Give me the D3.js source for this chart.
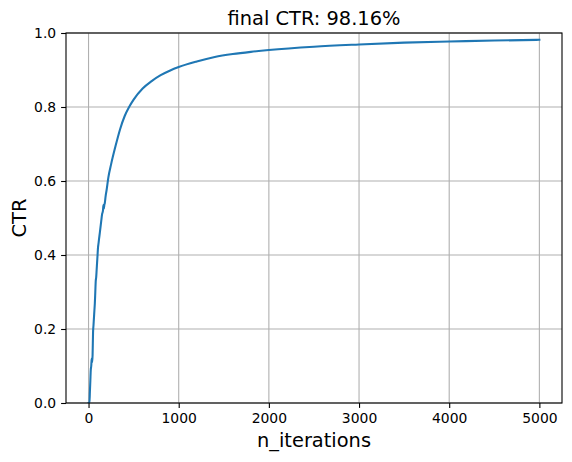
<!DOCTYPE html>
<html><head><meta charset="utf-8">
<script src="https://cdn.jsdelivr.net/npm/d3@7"></script>
<style>body{margin:0;background:#fff}svg{display:block;font-family:"DejaVu Sans",sans-serif}</style>
</head><body><svg id="c" width="572" height="462"></svg>
<script>
const titleText = "final CTR: 98.16%";
const xLabel = "n_iterations";
const yLabel = "CTR";
const iterations = [1,10,15,20,25,30,35,40,45,50,55,60,65,70,75,80,85,90,95,100,105,110,115,120,130,140,150,160,165,170,175,180,190,200,220,250,300,350,400,450,500,600,700,800,900,1000,1200,1400,1600,1800,2000,2500,3000,3500,4000,4500,5000];
const ctr = [0,0,0.03,0.06,0.09,0.10,0.12,0.11,0.13,0.19,0.21,0.23,0.25,0.27,0.30,0.33,0.34,0.36,0.38,0.40,0.42,0.43,0.44,0.45,0.47,0.49,0.51,0.52,0.535,0.525,0.535,0.54,0.56,0.575,0.61,0.645,0.695,0.74,0.775,0.80,0.82,0.85,0.87,0.886,0.898,0.908,0.923,0.935,0.943,0.949,0.954,0.963,0.969,0.974,0.977,0.9795,0.9816];
const xTicks = [0,1000,2000,3000,4000,5000];
const yTicks = [0,0.2,0.4,0.6,0.8,1.0];

const svg = d3.select("#c");
const L=66, R=562, T=33, B=403;
const x = d3.scaleLinear().domain([-249.95, 5250.95]).range([L,R]);
const y = d3.scaleLinear().domain([0,1]).range([B,T]);

// grid
const g = svg.append("g");
g.selectAll(".gx").data(xTicks).join("line")
  .attr("x1",d=>x(d)).attr("x2",d=>x(d)).attr("y1",T).attr("y2",B)
  .attr("stroke","#b0b0b0").attr("stroke-width",1.1);
g.selectAll(".gy").data(yTicks).join("line")
  .attr("y1",d=>y(d)).attr("y2",d=>y(d)).attr("x1",L).attr("x2",R)
  .attr("stroke","#b0b0b0").attr("stroke-width",1.1);

// line
const data = iterations.map((n,i)=>[n,ctr[i]]);
svg.append("defs").append("clipPath").attr("id","clip").append("rect")
  .attr("x",L).attr("y",T).attr("width",R-L).attr("height",B-T);
svg.append("path").datum(data)
  .attr("clip-path","url(#clip)")
  .attr("d", d3.line().x(d=>x(d[0])).y(d=>y(d[1])).curve(d3.curveMonotoneX))
  .attr("fill","none").attr("stroke","#1f77b4").attr("stroke-width",2.08)
  .attr("stroke-linejoin","round").attr("stroke-linecap","square");

// axes
const xa = svg.append("g").attr("transform",`translate(0,${B})`)
  .call(d3.axisBottom(x).tickValues(xTicks).tickFormat(d3.format("d")).tickSizeInner(4.9).tickSizeOuter(0).tickPadding(4.9));
const ya = svg.append("g").attr("transform",`translate(${L},0)`)
  .call(d3.axisLeft(y).tickValues(yTicks).tickFormat(d3.format(".1f")).tickSizeInner(4.9).tickSizeOuter(0).tickPadding(4.9));
[xa,ya].forEach(a=>{
  a.select(".domain").remove();
  a.selectAll("line").attr("stroke","#000").attr("stroke-width",1.1);
  a.selectAll("text").attr("font-family","DejaVu Sans").attr("font-size","13.9px").attr("fill","#000");
});

// spines
svg.append("rect").attr("x",L).attr("y",T).attr("width",R-L).attr("height",B-T)
  .attr("fill","none").attr("stroke","#000").attr("stroke-width",1.1);

// labels
svg.append("text").attr("x",(L+R)/2).attr("y",25).attr("text-anchor","middle")
  .attr("font-size","19.4px").attr("fill","#000").text(titleText);
svg.append("text").attr("x",(L+R)/2).attr("y",447).attr("text-anchor","middle")
  .attr("font-size","19.4px").attr("fill","#000").text(xLabel);
svg.append("text").attr("transform",`translate(25.5,${(T+B)/2}) rotate(-90)`).attr("text-anchor","middle")
  .attr("font-size","19.4px").attr("fill","#000").text(yLabel);
</script></body></html>
